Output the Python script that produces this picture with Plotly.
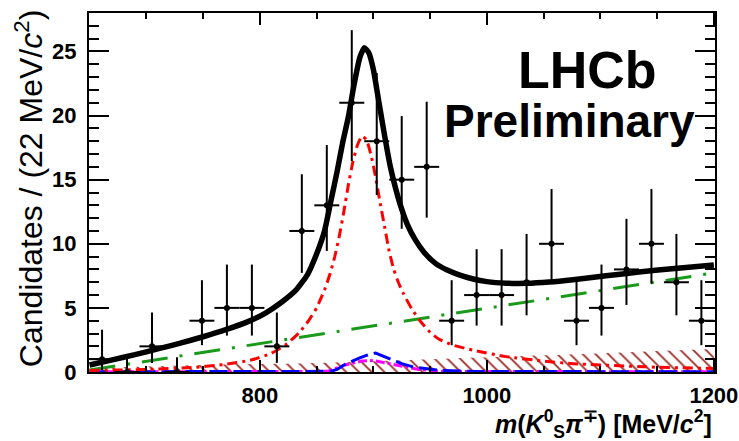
import plotly.graph_objects as go

# ---------------- data ----------------
bin_centers = [661, 683, 705, 727, 749, 771, 793, 815, 837, 859, 881, 903, 925,
               947, 969, 991, 1013, 1035, 1057, 1079, 1101, 1123, 1145, 1167, 1189]
counts = [1, 0, 2, 0, 4, 5, 5, 2, 11, 13, 21, 18, 15, 16, 4, 6, 6, 7, 10, 4, 5, 8, 10, 7, 4]
err_lo = [0.83, 0, 1.29, 0, 1.91, 2.16, 2.16, 1.29, 3.27, 3.56, 4.55, 4.20, 3.83,
          3.96, 1.91, 2.38, 2.38, 2.58, 3.11, 1.91, 2.16, 2.77, 3.11, 2.58, 1.91]
err_hi = [2.30, 1.15, 2.64, 1.15, 3.16, 3.38, 3.38, 2.64, 4.42, 4.70, 5.66, 5.32, 4.96,
          5.08, 3.16, 3.58, 3.58, 3.77, 4.27, 3.16, 3.38, 3.95, 4.27, 3.77, 3.16]
half_bin = 11

# total fit (black)
tot_m = [650, 670, 690, 710, 730, 750, 770, 790, 805, 820, 832, 842, 850, 857, 863,
         868, 873, 878, 883, 888, 892, 896, 900, 905, 910, 915, 920, 925, 930, 937,
         945, 955, 965, 975, 988, 1000, 1017, 1035, 1055, 1076, 1105, 1134, 1163, 1200]
tot_y = [0.55, 0.95, 1.35, 1.8, 2.25, 2.75, 3.3, 3.95, 4.6, 5.5, 6.4, 7.6, 9.2, 11.0,
         13.5, 15.6, 17.9, 19.9, 22.4, 24.5, 25.3, 24.9, 23.6, 21.0, 18.4, 16.0, 14.2,
         12.7, 11.5, 10.3, 9.3, 8.45, 7.95, 7.6, 7.25, 7.05, 6.93, 6.92, 7.02, 7.2,
         7.5, 7.8, 8.05, 8.35]

# signal (red dash-dot)
sig_m = [650, 700, 740, 770, 793, 810, 824, 835, 843, 850, 857, 862, 866, 870, 874,
         878, 882, 886, 890, 894, 898, 902, 906, 910, 914, 918, 922, 926, 934, 942,
         950, 958, 970, 988, 1017, 1050, 1076, 1140, 1200]
sig_y = [0.12, 0.2, 0.35, 0.6, 0.95, 1.45, 2.2, 3.1, 4.0, 5.0, 6.4, 7.7, 9.0, 10.6,
         12.5, 14.6, 16.4, 17.7, 18.4, 18.1, 16.9, 15.2, 13.2, 11.3, 9.4, 8.0, 7.0,
         6.2, 4.9, 3.9, 3.1, 2.55, 2.1, 1.7, 1.2, 0.85, 0.65, 0.4, 0.27]

# linear background (green)
bkg_m = [650, 1200]
bkg_y = [0.15, 7.73]

# hatched component
hat_m = [650, 750, 850, 950, 1050, 1200]
hat_y = [0.3, 0.55, 0.7, 1.0, 1.3, 1.8]

# blue component
blue_m = [650, 855, 862, 868, 876, 888, 897, 902, 912, 925, 935, 958, 990, 1200]
blue_y = [0.02, 0.02, 0.05, 0.2, 0.65, 1.1, 1.4, 1.48, 1.1, 0.65, 0.4, 0.13, 0.04, 0.02]

# magenta component
mag_m = [650, 860, 875, 890, 900, 912, 925, 940, 960, 1200]
mag_y = [0.01, 0.05, 0.55, 0.85, 0.9, 0.7, 0.45, 0.2, 0.05, 0.01]

FONT = "Liberation Sans, Arial, Helvetica, sans-serif"

fig = go.Figure()

fig.add_trace(go.Scatter(
    x=hat_m, y=hat_y, mode="lines", line=dict(width=0, shape="spline"),
    fill="tozeroy", fillcolor="rgba(0,0,0,0)",
    fillpattern=dict(shape="\\", fgcolor="#9a2a24", bgcolor="rgba(0,0,0,0)",
                     fgopacity=1, size=9, solidity=0.2),
    hoverinfo="skip", showlegend=False))

fig.add_trace(go.Scatter(
    x=mag_m, y=mag_y, mode="lines",
    line=dict(color="#ff00ff", width=3, dash="dashdot"), showlegend=False))

fig.add_trace(go.Scatter(
    x=blue_m, y=blue_y, mode="lines",
    line=dict(color="#0000ff", width=3, dash="18px,6px"), showlegend=False))

fig.add_trace(go.Scatter(
    x=bkg_m, y=bkg_y, mode="lines",
    line=dict(color="#1a9a1a", width=3, dash="26px,12px,3px,12px"), showlegend=False))

fig.add_trace(go.Scatter(
    x=sig_m, y=sig_y, mode="lines",
    line=dict(color="#ff0000", width=3, dash="10px,5px,3px,5px", shape="spline",
              smoothing=0.5),
    showlegend=False))

fig.add_trace(go.Scatter(
    x=tot_m, y=tot_y, mode="lines",
    line=dict(color="black", width=5.5, shape="spline", smoothing=0.5),
    showlegend=False))

fig.add_trace(go.Scatter(
    x=bin_centers, y=counts, mode="markers",
    marker=dict(color="black", size=6),
    error_y=dict(type="data", symmetric=False, array=err_hi, arrayminus=err_lo,
                 color="black", thickness=2, width=0),
    error_x=dict(type="constant", value=half_bin, color="black", thickness=2, width=0),
    showlegend=False, cliponaxis=True))

fig.update_layout(
    width=739, height=441,
    margin=dict(l=89, r=24, t=13, b=69, autoexpand=False),
    plot_bgcolor="white", paper_bgcolor="white",
    font=dict(family=FONT, color="black"),
    xaxis=dict(
        range=[649.5, 1201], tickmode="array", tickvals=[800, 1000, 1200],
        ticktext=["800", "1000", "1200"], automargin=False,
        ticks="inside", ticklen=12, tickwidth=2, tickcolor="black",
        minor=dict(ticks="inside", ticklen=6, tickwidth=2, tickcolor="black",
                   tickvals=[650, 700, 750, 850, 900, 950, 1050, 1100, 1150]),
        showline=True, linecolor="black", linewidth=2, mirror="allticks",
        showgrid=False, zeroline=False,
        tickfont=dict(family=FONT, size=22, color="black", weight="bold"),
        ticklabelstandoff=3,
    ),
    yaxis=dict(
        range=[0, 28], tick0=0, dtick=5, automargin=False,
        ticks="inside", ticklen=20, tickwidth=2, tickcolor="black",
        minor=dict(ticks="inside", ticklen=10, tickwidth=2, tickcolor="black",
                   dtick=1, tick0=0),
        showline=True, linecolor="black", linewidth=2, mirror="allticks",
        showgrid=False, zeroline=False,
        tickfont=dict(family=FONT, size=22, color="black", weight="bold"),
        ticklabelstandoff=6,
    ),
    annotations=[
        dict(text="LHCb", xref="paper", yref="paper", x=0.797, y=0.841,
             xanchor="center", yanchor="middle", showarrow=False,
             font=dict(family=FONT, size=52, color="black", weight="bold")),
        dict(text="Preliminary", xref="paper", yref="paper", x=0.767, y=0.699,
             xanchor="center", yanchor="middle", showarrow=False,
             font=dict(family=FONT, size=46, color="black", weight="bold")),
        dict(text="Candidates / (22 MeV/<i>c</i><sup>2</sup>)", xref="paper", yref="paper",
             x=-0.096, y=1.016, xanchor="center", yanchor="top", textangle=-90,
             showarrow=False, font=dict(family=FONT, size=32, color="black")),
        dict(text="<i>m</i>(<i>K</i><sup>0</sup><sub>S</sub><i>π</i><sup>∓</sup>) [MeV/<i>c</i><sup>2</sup>]",
             xref="paper", yref="paper", x=0.998, y=-0.145,
             xanchor="right", yanchor="middle", showarrow=False,
             font=dict(family=FONT, size=25, color="black", weight="bold")),
    ],
)

fig.write_html("out.html")
